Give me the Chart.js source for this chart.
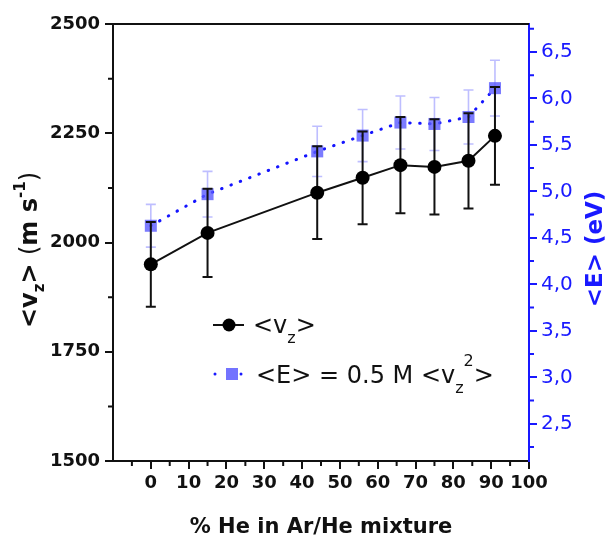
<!DOCTYPE html>
<html><head><meta charset="utf-8">
<script src="https://cdn.jsdelivr.net/npm/chart.js@4/dist/chart.umd.min.js"></script>
<style>html,body{margin:0;padding:0;background:#fff}#wrap{width:609px;height:540px;position:relative}</style>
</head><body><div id="wrap"><canvas id="c" width="609" height="540"></canvas></div>
<script>
// ---- data ----
const heliumPercent = [0, 15, 44, 56, 66, 75, 84, 91];
const meanVz = [1950, 2022, 2114, 2148, 2177, 2173, 2187, 2244];
const meanVzErr = [97, 101, 106, 106, 110, 109, 109, 112];
const meanE = [4.63, 4.97, 5.43, 5.60, 5.74, 5.725, 5.80, 6.11];
const meanEErr = [0.23, 0.245, 0.27, 0.28, 0.285, 0.285, 0.29, 0.30];
const xTickValues = [0, 10, 20, 30, 40, 50, 60, 70, 80, 90, 100];
const xMinorValues = [-5, 5, 15, 25, 35, 45, 55, 65, 75, 85, 95];
const vzTickValues = [1500, 1750, 2000, 2250, 2500];
const vzMinorValues = [1625, 1875, 2125, 2375];
const eTickValues = [2.5, 3.0, 3.5, 4.0, 4.5, 5.0, 5.5, 6.0, 6.5];
const eMinorValues = [2.25, 2.75, 3.25, 3.75, 4.25, 4.75, 5.25, 5.75, 6.25, 6.75];

const FONT = '"DejaVu Sans", "Liberation Sans", sans-serif';
const BLUE = 'rgb(25,25,255)';

function richText(ctx, x, y, segs, align) {
  const widths = segs.map(s => {
    ctx.font = (s.weight || 'normal') + ' ' + s.size + 'px ' + FONT;
    return ctx.measureText(s.t).width;
  });
  const total = widths.reduce((a, b) => a + b, 0);
  let cx = align === 'center' ? x - total / 2 : x;
  segs.forEach((s, i) => {
    ctx.font = (s.weight || 'normal') + ' ' + s.size + 'px ' + FONT;
    ctx.textBaseline = 'alphabetic';
    ctx.textAlign = 'left';
    ctx.fillText(s.t, cx, y + (s.dy || 0));
    cx += widths[i];
  });
}

const errorBars = {
  id: 'errorBars',
  beforeDatasetDraw(chart, args) {
    const ctx = chart.ctx;
    const xs = chart.scales.x;
    const i = args.index;
    const ys = i === 0 ? chart.scales.y : chart.scales.y1;
    const vals = i === 0 ? meanVz : meanE;
    const errs = i === 0 ? meanVzErr : meanEErr;
    ctx.save();
    ctx.strokeStyle = i === 0 ? '#111' : 'rgba(110,110,255,0.45)';
    ctx.lineWidth = i === 0 ? 2 : 1.6;
    const cap = 5;
    heliumPercent.forEach((h, k) => {
      const px = xs.getPixelForValue(h);
      const top = ys.getPixelForValue(vals[k] + errs[k]);
      const bot = ys.getPixelForValue(vals[k] - errs[k]);
      ctx.beginPath();
      ctx.moveTo(px, top); ctx.lineTo(px, bot);
      ctx.moveTo(px - cap, top); ctx.lineTo(px + cap, top);
      ctx.moveTo(px - cap, bot); ctx.lineTo(px + cap, bot);
      ctx.stroke();
    });
    ctx.restore();
  }
};

const decorations = {
  id: 'decorations',
  afterDraw(chart) {
    const ctx = chart.ctx;
    const a = chart.chartArea;
    const xs = chart.scales.x, ys = chart.scales.y, y1 = chart.scales.y1;
    ctx.save();
    ctx.strokeStyle = '#111'; ctx.lineWidth = 2;
    ctx.beginPath(); ctx.moveTo(a.left - 1, a.top); ctx.lineTo(a.right, a.top); ctx.stroke();
    ctx.beginPath();
    xMinorValues.forEach(v => { const p = xs.getPixelForValue(v); ctx.moveTo(p, a.bottom); ctx.lineTo(p, a.bottom + 5); });
    vzMinorValues.forEach(v => { const p = ys.getPixelForValue(v); ctx.moveTo(a.left, p); ctx.lineTo(a.left - 5, p); });
    ctx.stroke();
    ctx.strokeStyle = BLUE;
    ctx.beginPath();
    eMinorValues.forEach(v => { const p = y1.getPixelForValue(v); ctx.moveTo(a.right, p); ctx.lineTo(a.right + 5, p); });
    ctx.stroke();

    ctx.fillStyle = '#111';
    richText(ctx, (a.left + a.right) / 2, 533, [{t: '% He in Ar/He mixture', size: 21, weight: 'bold'}], 'center');

    ctx.save();
    ctx.translate(37, 250);
    ctx.rotate(-Math.PI / 2);
    richText(ctx, 0, 0, [
      {t: '<v', size: 24, weight: 'bold'},
      {t: 'z', size: 15, weight: 'bold', dy: 7},
      {t: '> ', size: 24, weight: 'bold'},
      {t: '(', size: 24, weight: 'normal'},
      {t: 'm s', size: 24, weight: 'bold'},
      {t: '-1', size: 15, weight: 'bold', dy: -12},
      {t: ')', size: 24, weight: 'normal'}
    ], 'center');
    ctx.restore();

    ctx.save();
    ctx.fillStyle = BLUE;
    ctx.translate(602, 249);
    ctx.rotate(-Math.PI / 2);
    richText(ctx, 0, 0, [{t: '<E> (eV)', size: 23, weight: 'bold'}], 'center');
    ctx.restore();

    const l1y = 325;
    ctx.strokeStyle = '#111'; ctx.lineWidth = 2;
    ctx.beginPath(); ctx.moveTo(213, l1y); ctx.lineTo(244, l1y); ctx.stroke();
    ctx.fillStyle = '#000';
    ctx.beginPath(); ctx.arc(229, l1y, 6.5, 0, Math.PI * 2); ctx.fill();
    ctx.fillStyle = '#111';
    richText(ctx, 253, l1y + 8, [
      {t: '<v', size: 24},
      {t: 'z', size: 16, dy: 10},
      {t: '>', size: 24}
    ], 'left');

    const l2y = 374;
    ctx.fillStyle = BLUE;
    ctx.beginPath(); ctx.arc(215, l2y, 1.5, 0, Math.PI * 2); ctx.fill();
    ctx.beginPath(); ctx.arc(241, l2y, 1.5, 0, Math.PI * 2); ctx.fill();
    ctx.fillStyle = 'rgba(100,100,255,0.9)';
    ctx.fillRect(226, l2y - 6, 12, 12);
    ctx.fillStyle = '#111';
    richText(ctx, 256, l2y + 8.5, [
      {t: '<E> = 0.5 M <v', size: 24},
      {t: 'z', size: 16, dy: 10},
      {t: '2', size: 16, dy: -17},
      {t: '>', size: 24}
    ], 'left');
    ctx.restore();
  }
};

const ctx = document.getElementById('c').getContext('2d');
new Chart(ctx, {
  type: 'line',
  data: {
    datasets: [
      {
        label: '<vz>',
        data: heliumPercent.map((h, i) => ({x: h, y: meanVz[i]})),
        yAxisID: 'y',
        borderColor: '#111',
        borderWidth: 2,
        pointRadius: 7,
        pointHoverRadius: 7,
        pointBackgroundColor: '#000',
        pointBorderColor: '#000',
        pointBorderWidth: 0,
        tension: 0,
        order: 0
      },
      {
        label: '<E> = 0.5 M <vz2>',
        data: heliumPercent.map((h, i) => ({x: h, y: meanE[i]})),
        yAxisID: 'y1',
        borderColor: 'rgb(20,20,255)',
        borderWidth: 3,
        borderDash: [0.5, 9.5],
        borderCapStyle: 'round',
        pointStyle: 'rect',
        pointRadius: 8.5,
        pointHoverRadius: 8.5,
        pointBackgroundColor: 'rgba(90,90,255,0.8)',
        pointBorderWidth: 0,
        tension: 0,
        order: 1
      }
    ]
  },
  options: {
    responsive: false,
    animation: false,
    events: [],
    layout: {padding: {top: 24, left: 0, right: 0, bottom: 0}},
    plugins: {legend: {display: false}, tooltip: {enabled: false}},
    scales: {
      x: {
        type: 'linear', position: 'bottom', min: -10, max: 100,
        afterBuildTicks: s => { s.ticks = xTickValues.map(v => ({value: v})); },
        afterFit: s => { s.height = 79; },
        grid: {display: true, drawOnChartArea: false, drawTicks: true, tickLength: 8, color: '#111', lineWidth: 2},
        border: {display: true, color: '#111', width: 2},
        ticks: {color: '#111', font: {family: FONT, size: 18, weight: 'bold'}, padding: 4, maxRotation: 0, autoSkip: false,
          callback: v => String(v)}
      },
      y: {
        type: 'linear', position: 'left', min: 1500, max: 2500,
        afterBuildTicks: s => { s.ticks = vzTickValues.map(v => ({value: v})); },
        afterFit: s => { s.width = 113; },
        grid: {display: true, drawOnChartArea: false, drawTicks: true, tickLength: 8, color: '#111', lineWidth: 2},
        border: {display: true, color: '#111', width: 2},
        ticks: {color: '#111', font: {family: FONT, size: 18, weight: 'bold'}, padding: 5, autoSkip: false,
          callback: v => String(v)}
      },
      y1: {
        type: 'linear', position: 'right', min: 2.1, max: 6.8,
        afterBuildTicks: s => { s.ticks = eTickValues.map(v => ({value: v})); },
        afterFit: s => { s.width = 80; },
        grid: {display: true, drawOnChartArea: false, drawTicks: true, tickLength: 8, color: BLUE, lineWidth: 2},
        border: {display: true, color: BLUE, width: 2},
        ticks: {color: BLUE, font: {family: FONT, size: 20}, padding: 4, autoSkip: false,
          callback: v => v.toFixed(1).replace('.', ',')}
      }
    }
  },
  plugins: [errorBars, decorations]
});
</script>
</body></html>
